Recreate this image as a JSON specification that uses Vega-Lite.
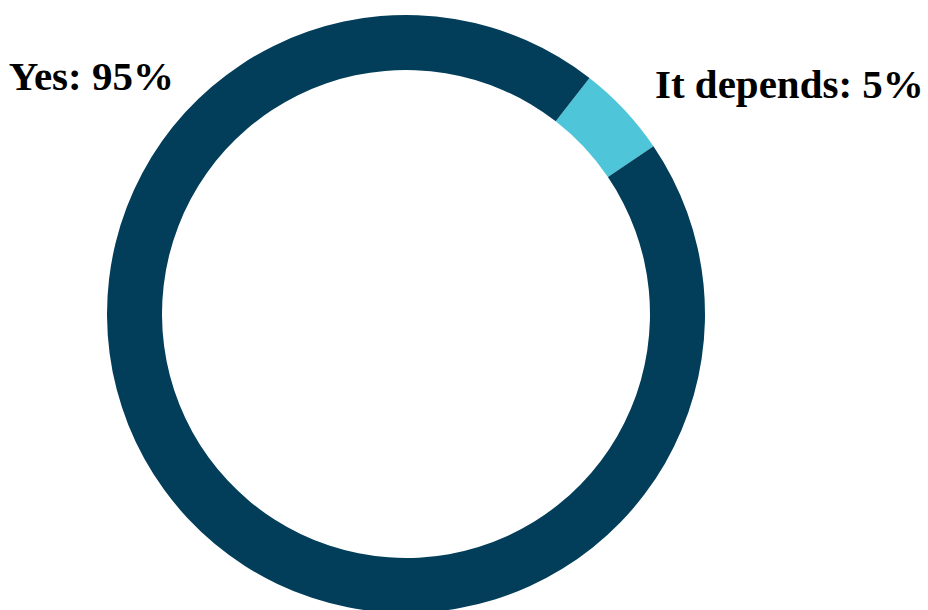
{
  "$schema": "https://vega.github.io/schema/vega-lite/v6.json",
  "width": 812,
  "height": 592,
  "autosize": {"type": "none"},
  "padding": {"left": 0, "top": 18, "right": 116, "bottom": 0},
  "background": "white",
  "config": {"view": {"stroke": null}},
  "data": {"values": [
    {"category": "It depends", "value": 5, "label": "It depends: 5%"},
    {"category": "Yes", "value": 95, "label": "Yes: 95%"}
  ]},
  "layer": [
    {
      "mark": {"type": "arc", "radius": 299, "innerRadius": 244},
      "encoding": {
        "theta": {"field": "value", "type": "quantitative", "stack": true, "scale": {"range": [0.6606, 6.9438]}},
        "order": {"field": "category", "sort": "ascending"},
        "color": {"field": "category", "type": "nominal", "legend": null,
                  "scale": {"domain": ["It depends", "Yes"], "range": ["#4ec5d9", "#023e5a"]}}
      }
    },
    {
      "transform": [{"filter": "datum.category === 'It depends'"}],
      "mark": {"type": "text", "theta": 0.8563, "radius": 329.6, "align": "left", "baseline": "alphabetic",
               "font": "Liberation Serif", "fontWeight": "bold", "fontSize": 41, "color": "black"},
      "encoding": {"text": {"field": "label"}}
    },
    {
      "transform": [{"filter": "datum.category === 'Yes'"}],
      "mark": {"type": "text", "theta": 5.480, "radius": 322.5, "align": "right", "baseline": "alphabetic",
               "font": "Liberation Serif", "fontWeight": "bold", "fontSize": 41, "color": "black"},
      "encoding": {"text": {"field": "label"}}
    }
  ]
}
